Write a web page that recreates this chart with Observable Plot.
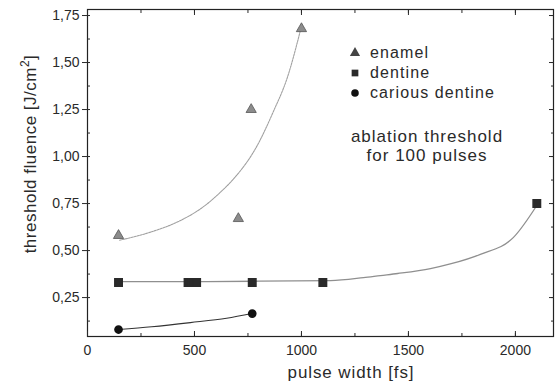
<!DOCTYPE html>
<html>
<head>
<meta charset="utf-8">
<script src="https://cdn.jsdelivr.net/npm/d3@7"></script>
<script src="https://cdn.jsdelivr.net/npm/@observablehq/plot@0.6"></script>
<style>
  html, body { margin: 0; padding: 0; background: #fff; }
  #chart svg { display: block; }
</style>
</head>
<body>
<div id="chart"></div>
<script>
// ---- data ----
const xTicks = [0, 500, 1000, 1500, 2000];
const yTicks = [0.25, 0.5, 0.75, 1.0, 1.25, 1.5, 1.75];
const seriesNames = ["enamel", "dentine", "carious dentine"];
const xTitle = "pulse width [fs]";
const yTitle = "threshold fluence [J/cm";
const noteLines = ["ablation threshold", "for 100 pulses"];

const enamelX = [145, 705, 765, 1000];
const enamelY = [0.58, 0.67, 1.25, 1.68];
const dentineX = [145, 470, 490, 510, 770, 1100, 2100];
const dentineY = [0.33, 0.33, 0.33, 0.33, 0.33, 0.33, 0.75];
const cariousX = [145, 770];
const cariousY = [0.08, 0.165];

// fitted curves
const enamelFitX = [150, 300, 435, 550, 621, 682, 794, 869, 934, 995];
const enamelFitY = [0.555, 0.60, 0.66, 0.74, 0.81, 0.88, 1.06, 1.24, 1.42, 1.67];
const dentineFitX = [145, 500, 800, 1136, 1290, 1369, 1450, 1603, 1700, 1836, 1991, 2103];
const dentineFitY = [0.335, 0.335, 0.337, 0.34, 0.356, 0.367, 0.378, 0.404, 0.43, 0.48, 0.57, 0.745];
const cariousFitX = [145, 300, 481, 650, 770];
const cariousFitY = [0.08, 0.095, 0.117, 0.14, 0.165];

const zip = (xs, ys) => xs.map((x, i) => ({x, y: ys[i]}));
const enamel = zip(enamelX, enamelY);
const dentine = zip(dentineX, dentineY);
const carious = zip(cariousX, cariousY);
const enamelFit = zip(enamelFitX, enamelFitY);
const dentineFit = zip(dentineFitX, dentineFitY);
const cariousFit = zip(cariousFitX, cariousFitY);

const fmtY = d => d3.format(".2f")(d).replace(".", ",");
const xMinor = d3.range(250, 2180, 250);
const yMinor = d3.range(0.125, 1.78, 0.125);

const FONT = "Liberation Sans, Arial, sans-serif";
const INK = "#2a2a2a";

const chart = Plot.plot({
  width: 560,
  height: 389,
  marginLeft: 87,
  marginRight: 7,
  marginTop: 9,
  marginBottom: 53,
  style: {fontFamily: FONT, fontSize: "14px", color: INK, background: "#fff"},
  x: {domain: [0, 2178]},
  y: {domain: [0.043, 1.782]},
  marks: [
    Plot.frame({stroke: "#222", strokeWidth: 1.2}),
    Plot.axisX(xTicks, {anchor: "bottom", tickSize: 0, tickPadding: 9, fontSize: 14, tickFormat: d => String(d), label: null}),
    Plot.axisX(xTicks, {anchor: "bottom", tickSize: -5, text: null, label: null}),
    Plot.axisX(xMinor, {anchor: "bottom", tickSize: -3, text: null, label: null}),
    Plot.axisX(xTicks, {anchor: "top", tickSize: -5, text: null, label: null}),
    Plot.axisX(xMinor, {anchor: "top", tickSize: -3, text: null, label: null}),
    Plot.axisY(yTicks, {anchor: "left", tickSize: 5, tickPadding: 3, tickFormat: fmtY, fontSize: 14, label: null}),
    Plot.axisY(yMinor, {anchor: "left", tickSize: -3, text: null, label: null}),
    Plot.axisY(yTicks, {anchor: "right", tickSize: -5, text: null, label: null}),
    Plot.axisY(yMinor, {anchor: "right", tickSize: -3, text: null, label: null}),
    // fitted curves
    Plot.line(enamelFit, {x: "x", y: "y", curve: "monotone-x", stroke: "#a0a0a0", strokeWidth: 1.1, strokeDasharray: "2,1"}),
    Plot.line(dentineFit, {x: "x", y: "y", curve: "monotone-x", stroke: "#8f8f8f", strokeWidth: 1.3}),
    Plot.line(cariousFit, {x: "x", y: "y", curve: "monotone-x", stroke: "#333", strokeWidth: 1.1}),
    // data points
    Plot.dot(enamel, {x: "x", y: "y", symbol: "triangle", r: 3.8, fill: "#8c8c8c", stroke: "#555", strokeWidth: 0.8}),
    Plot.dot(dentine, {x: "x", y: "y", symbol: "square", r: 4.2, fill: "#2a2a2a", stroke: "#2a2a2a"}),
    Plot.dot(carious, {x: "x", y: "y", symbol: "circle", r: 3.6, fill: "#111", stroke: "#111"})
  ]
});

document.getElementById("chart").appendChild(chart);
const svg = d3.select(chart);

// axis titles
const tg = svg.append("g").attr("font-family", FONT).attr("fill", INK);
tg.append("text").attr("x", 351).attr("y", 378).attr("text-anchor", "middle")
  .attr("font-size", 17).attr("letter-spacing", "0.9px").text(xTitle);
const yt = tg.append("text").attr("transform", "translate(36,154) rotate(-90)")
  .attr("text-anchor", "middle").attr("font-size", 17).attr("letter-spacing", "0.5px");
yt.append("tspan").text(yTitle);
yt.append("tspan").attr("dy", -7).attr("font-size", 12).text("2");
yt.append("tspan").attr("dy", 7).text("]");

// legend inside plot
const legendSymbols = [d3.symbolTriangle, d3.symbolSquare, d3.symbolCircle];
const legendFill = ["#444", "#2a2a2a", "#111"];
const lg = svg.append("g").attr("font-family", FONT).attr("fill", INK).attr("text-anchor", "start");
seriesNames.forEach((name, i) => {
  const yy = 53 + i * 20;
  lg.append("path").attr("d", d3.symbol(legendSymbols[i], 45)()).attr("transform", `translate(355,${yy})`).attr("fill", legendFill[i]);
  lg.append("text").attr("x", 370).attr("y", yy + 5).attr("font-size", 16).attr("letter-spacing", "1.1px").text(name);
});
noteLines.forEach((s, i) => {
  lg.append("text").attr("x", 427).attr("y", 142 + i * 19).attr("text-anchor", "middle")
    .attr("font-size", 17).attr("letter-spacing", "1px").text(s);
});
</script>
</body>
</html>
